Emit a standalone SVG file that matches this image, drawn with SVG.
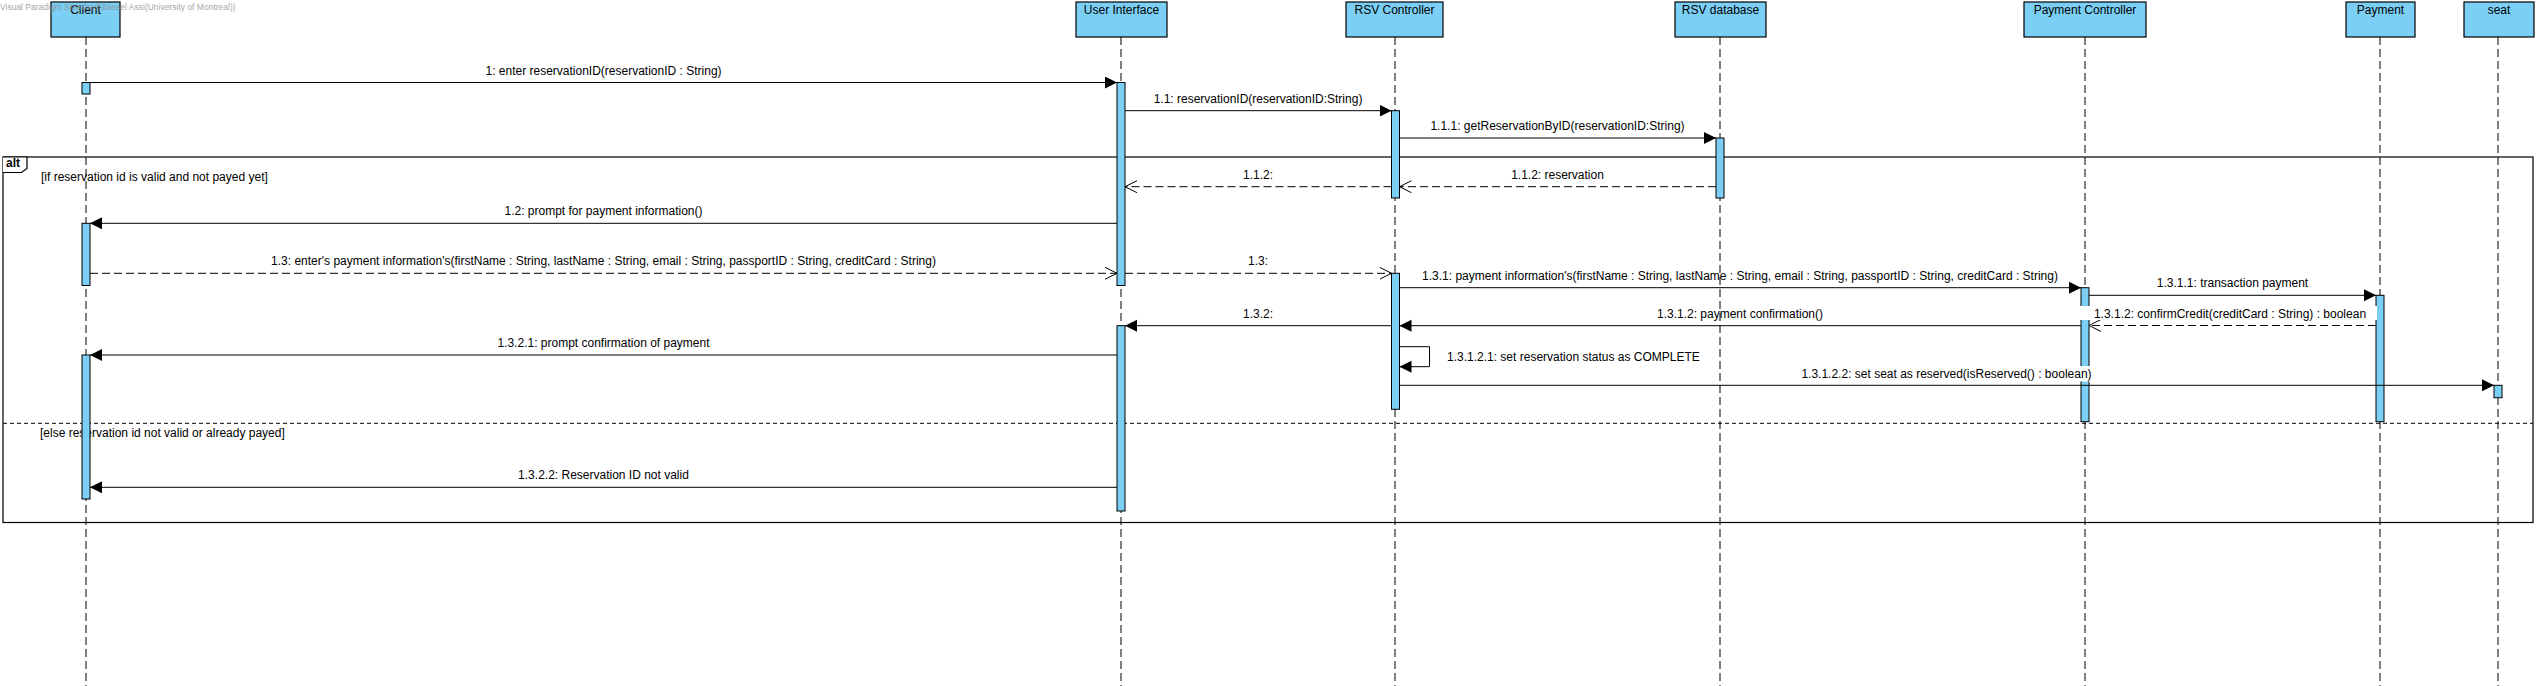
<svg xmlns="http://www.w3.org/2000/svg" width="2538" height="686" viewBox="0 0 2538 686">
<style>
  text { font-family: "Liberation Sans", Arial, sans-serif; font-size: 12px; fill: #000; }
  .c { text-anchor: middle; }
  .head { fill: #7BCFF4; stroke: #000; stroke-width: 1.2; }
  .act { fill: #7BCFF4; stroke: #000; stroke-width: 1; }
  .life { stroke: #000; stroke-width: 1; stroke-dasharray: 8 4; fill: none; }
  .msg { stroke: #000; stroke-width: 1; fill: none; marker-end: url(#filled); }
  .ret { stroke: #000; stroke-width: 1; fill: none; stroke-dasharray: 8 4; marker-end: url(#open); }
  .frame { fill: none; stroke: #000; stroke-width: 1.2; }
  .sep { stroke: #000; stroke-width: 1; stroke-dasharray: 4 3; }
  .bg { fill: #fff; stroke: none; }
  .wm { font-size: 8.5px; fill: #8a8a8a; }
</style>
<defs>
  <marker id="filled" markerUnits="userSpaceOnUse" markerWidth="13" markerHeight="13" refX="12" refY="6" orient="auto">
    <path d="M0,0 L12,6 L0,12 z" fill="#000"/>
  </marker>
  <marker id="open" markerUnits="userSpaceOnUse" markerWidth="13" markerHeight="13" refX="12" refY="6" orient="auto">
    <path d="M0,0 L12,6 L0,12" fill="none" stroke="#000" stroke-width="1"/>
  </marker>
</defs>
<rect width="2538" height="686" fill="#fff"/>

<g id="alt-frame">
  <rect class="frame" x="3" y="157" width="2530" height="365.5"/>
  <path d="M3,157 H27 V168.5 L21.5,172.5 H3" fill="#fff" stroke="#000" stroke-width="1.2"/>
  <text x="6" y="167" style="font-weight:bold">alt</text>
  <text x="41" y="181">[if reservation id is valid and not payed yet]</text>
  <line class="sep" x1="3" y1="423.3" x2="2533" y2="423.3"/>
  <text x="40" y="437">[else reservation id not valid or already payed]</text>
</g>

<g id="client">
  <line class="life" x1="86" y1="37" x2="86" y2="686"/>
  <rect class="head" x="51" y="2" width="69" height="35"/>
  <text class="c" x="85.5" y="13.5">Client</text>
  <rect class="act" x="82" y="82.5" width="8" height="11.5"/>
  <rect class="act" x="82" y="223.3" width="8" height="62.2"/>
  <rect class="act" x="82" y="355" width="8" height="144"/>
</g>

<g id="user-interface">
  <line class="life" x1="1121" y1="37" x2="1121" y2="686"/>
  <rect class="head" x="1076" y="2" width="91" height="35"/>
  <text class="c" x="1121.5" y="13.5">User Interface</text>
  <rect class="act" x="1117" y="82.5" width="8" height="203"/>
  <rect class="act" x="1117" y="325.7" width="8" height="185.3"/>
</g>

<g id="rsv-controller">
  <line class="life" x1="1395" y1="37" x2="1395" y2="686"/>
  <rect class="head" x="1346" y="2" width="97" height="35"/>
  <text class="c" x="1394.5" y="13.5">RSV Controller</text>
  <rect class="act" x="1391.5" y="110.7" width="8" height="87.3"/>
  <rect class="act" x="1391.5" y="273.3" width="8" height="136"/>
</g>

<g id="rsv-database">
  <line class="life" x1="1720" y1="37" x2="1720" y2="686"/>
  <rect class="head" x="1675" y="2" width="91" height="35"/>
  <text class="c" x="1720.5" y="13.5">RSV database</text>
  <rect class="act" x="1716" y="138" width="8" height="60"/>
</g>

<g id="payment-controller">
  <line class="life" x1="2085" y1="37" x2="2085" y2="686"/>
  <rect class="head" x="2024" y="2" width="122" height="35"/>
  <text class="c" x="2085" y="13.5">Payment Controller</text>
  <rect class="act" x="2081" y="287.7" width="8" height="134"/>
</g>

<g id="payment">
  <line class="life" x1="2380" y1="37" x2="2380" y2="686"/>
  <rect class="head" x="2346" y="2" width="69" height="35"/>
  <text class="c" x="2380.5" y="13.5">Payment</text>
  <rect class="act" x="2376" y="295.3" width="8" height="126.4"/>
</g>

<g id="seat">
  <line class="life" x1="2498" y1="37" x2="2498" y2="686"/>
  <rect class="head" x="2464" y="2" width="70" height="35"/>
  <text class="c" x="2499" y="13.5">seat</text>
  <rect class="act" x="2494" y="385.3" width="8" height="12.4"/>
</g>

<g id="connectors">
  <path class="msg" d="M90,82.5 H1117"/>
  <text class="c" x="603.5" y="74.5">1: enter reservationID(reservationID : String)</text>

  <path class="msg" d="M1125,110.7 H1391.5"/>
  <text class="c" x="1258" y="102.5">1.1: reservationID(reservationID:String)</text>

  <path class="msg" d="M1399.5,138 H1716"/>
  <text class="c" x="1557.5" y="130">1.1.1: getReservationByID(reservationID:String)</text>

  <path class="ret" d="M1716,186.7 H1399.5"/>
  <text class="c" x="1557.5" y="178.5">1.1.2: reservation</text>

  <path class="ret" d="M1391.5,186.7 H1125"/>
  <text class="c" x="1258" y="178.5">1.1.2:</text>

  <path class="msg" d="M1117,223.3 H90"/>
  <text class="c" x="603.5" y="215">1.2: prompt for payment information()</text>

  <path class="ret" d="M90,273.3 H1117"/>
  <text class="c" x="603.5" y="265">1.3: enter's payment information's(firstName : String, lastName : String, email : String, passportID : String, creditCard : String)</text>

  <path class="ret" d="M1125,273.3 H1391.5"/>
  <text class="c" x="1258" y="265">1.3:</text>

  <path class="msg" d="M1399.5,287.7 H2081"/>
  <text class="c" x="1740" y="279.5">1.3.1: payment information's(firstName : String, lastName : String, email : String, passportID : String, creditCard : String)</text>

  <path class="msg" d="M2089,295.3 H2376"/>
  <text class="c" x="2232.5" y="287">1.3.1.1: transaction payment</text>

  <path class="ret" d="M2376,325.5 H2089"/>
  <rect class="bg" x="2080" y="306" width="297" height="14"/>
  <text class="c" x="2230" y="317.5">1.3.1.2: confirmCredit(creditCard : String) : boolean</text>

  <path class="msg" d="M2081,325.7 H1399.5"/>
  <text class="c" x="1740" y="317.5">1.3.1.2: payment confirmation()</text>

  <path class="msg" d="M1391.5,325.7 H1125"/>
  <text class="c" x="1258" y="317.5">1.3.2:</text>

  <path class="msg" d="M1399.5,346.7 H1429.5 V366.7 H1399.5"/>
  <text x="1447" y="361">1.3.1.2.1: set reservation status as COMPLETE</text>

  <path class="msg" d="M1399.5,385.3 H2494"/>
  <rect class="bg" x="1798" y="366" width="295" height="15.5"/>
  <text class="c" x="1946.5" y="377.5">1.3.1.2.2: set seat as reserved(isReserved() : boolean)</text>

  <path class="msg" d="M1117,355 H90"/>
  <text class="c" x="603.5" y="347">1.3.2.1: prompt confirmation of payment</text>

  <path class="msg" d="M1117,487.3 H90"/>
  <text class="c" x="603.5" y="479">1.3.2.2: Reservation ID not valid</text>
</g>

<text class="wm" x="0" y="10" opacity="0.75">Visual Paradigm Standard(Bassel Assi(University of Montreal))</text>
</svg>
